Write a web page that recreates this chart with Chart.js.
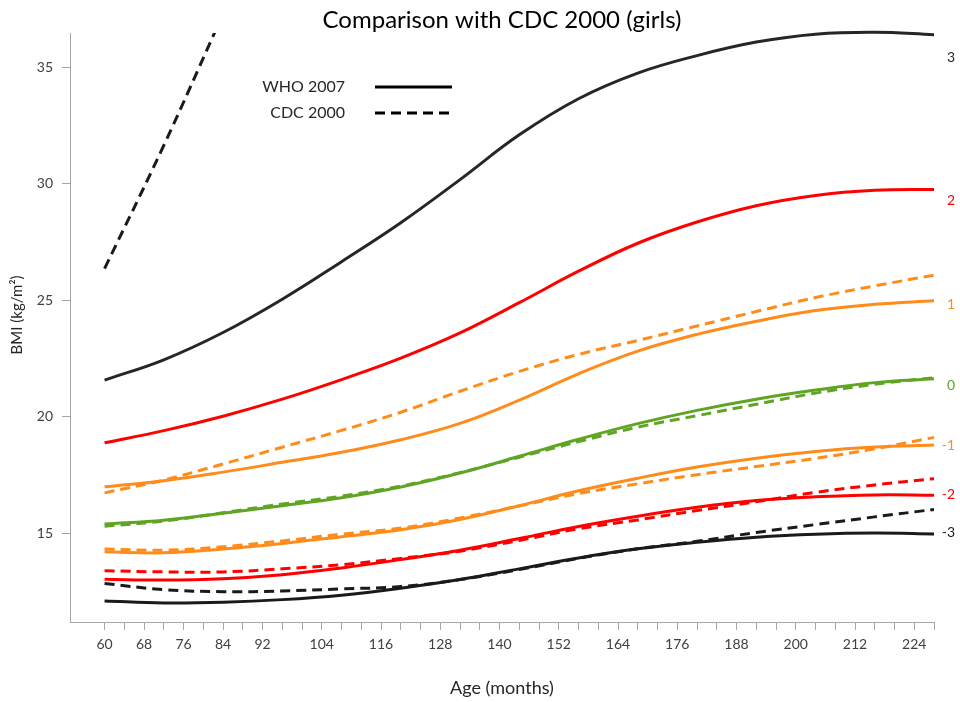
<!DOCTYPE html>
<html>
<head>
<meta charset="utf-8">
<script src="https://cdn.jsdelivr.net/npm/chart.js@4.4.1/dist/chart.umd.min.js"></script>
<style>
  html, body { margin: 0; padding: 0; background: #fff; }
</style>
</head>
<body>
<canvas id="bmi" width="960" height="702"></canvas>
<script>
// ages (months) at which the curves were read
const ages = [60, 72, 84, 96, 108, 120, 132, 144, 156, 168, 180, 192, 204, 216, 228];

// WHO 2007 z-score curves (BMI kg/m2)
const whoP3 = [21.58, 22.45, 23.62, 25.05, 26.66, 28.33, 30.18, 32.1, 33.65, 34.75, 35.5, 36.08, 36.42, 36.5, 36.4];
const whoP2 = [18.89, 19.41, 20.03, 20.76, 21.6, 22.52, 23.6, 24.9, 26.25, 27.45, 28.36, 29.06, 29.5, 29.72, 29.76];
const whoP1 = [17.0, 17.26, 17.63, 18.05, 18.48, 19.02, 19.72, 20.72, 21.85, 22.82, 23.54, 24.1, 24.56, 24.83, 24.98];
const who0  = [15.4, 15.57, 15.87, 16.19, 16.53, 16.99, 17.59, 18.31, 19.04, 19.71, 20.28, 20.76, 21.15, 21.47, 21.64];
const whoM1 = [14.21, 14.17, 14.33, 14.57, 14.86, 15.16, 15.6, 16.19, 16.83, 17.37, 17.85, 18.23, 18.52, 18.71, 18.79];
const whoM2 = [13.03, 13.0, 13.06, 13.23, 13.52, 13.88, 14.28, 14.78, 15.3, 15.74, 16.12, 16.41, 16.57, 16.65, 16.64];
const whoM3 = [12.1, 12.02, 12.05, 12.16, 12.35, 12.65, 13.02, 13.48, 13.95, 14.34, 14.62, 14.84, 14.97, 15.02, 14.98];

// CDC 2000 z-score curves
const cdcP3 = [26.36, 31.65, 37.3, 43.0, null, null, null, null, null, null, null, null, null, null, null];
const cdcP1 = [16.74, 17.29, 17.98, 18.7, 19.42, 20.2, 21.1, 21.95, 22.68, 23.28, 23.9, 24.52, 25.12, 25.62, 26.08];
const cdc0  = [15.31, 15.53, 15.89, 16.26, 16.6, 17.03, 17.61, 18.27, 18.94, 19.56, 20.05, 20.54, 21.02, 21.4, 21.68];
const cdcM1 = [14.33, 14.28, 14.43, 14.68, 14.97, 15.23, 15.66, 16.18, 16.71, 17.13, 17.52, 17.87, 18.22, 18.63, 19.12];
const cdcM2 = [13.4, 13.35, 13.35, 13.48, 13.66, 13.93, 14.24, 14.7, 15.2, 15.58, 15.98, 16.36, 16.76, 17.08, 17.35];
const cdcM3 = [12.85, 12.59, 12.5, 12.53, 12.62, 12.72, 13.02, 13.45, 13.93, 14.34, 14.66, 15.04, 15.38, 15.71, 16.03];

// axis ticks
const xLabelTicks = [60, 68, 76, 84, 92, 104, 116, 128, 140, 152, 164, 176, 188, 200, 212, 224];
const yTicks = [15, 20, 25, 30, 35];
const zLabels = ['3', '2', '1', '0', '-1', '-2', '-3'];

const BLACK = '#1a1a1a', RED = '#ff0000', ORANGE = '#ff8c1a', GREEN = '#5fa523';
const FONT = 'Lato, "Open Sans", sans-serif';

const xMinor = [];
for (let a = 60; a <= 228; a += 4) xMinor.push(a);

const pts = vals => ages.map((a, i) => ({ x: a, y: vals[i] }));

const line = (vals, color, dashed, extra) => Object.assign({
    data: pts(vals),
    borderColor: color,
    borderWidth: 3,
    borderDash: dashed ? [10, 6] : [],
    pointRadius: 0,
    tension: 0.4,
    fill: false
}, extra || {});

// the right hand z labels, hung off the end of each WHO curve
const zAnchors = [whoP3, whoP2, whoP1, who0, whoM1, whoM2, whoM3];
const zColors = ['#262626', RED, ORANGE, GREEN, ORANGE, RED, BLACK];
const zNudge = [23, 11, 4, 7, 0, -1, -1];

const decorate = {
    id: 'decorate',
    afterDraw(chart) {
        const { ctx, chartArea: ca, scales } = chart;
        ctx.save();
        ctx.textBaseline = 'middle';

        // title
        ctx.fillStyle = '#000';
        ctx.font = '24px ' + FONT;
        ctx.textAlign = 'center';
        ctx.fillText('Comparison with CDC 2000 (girls)', (ca.left + ca.right) / 2, 20);

        // axis titles
        ctx.fillStyle = '#262626';
        ctx.font = '18px ' + FONT;
        ctx.fillText('Age (months)', (ca.left + ca.right) / 2, 688);
        ctx.save();
        ctx.translate(17, 315);
        ctx.rotate(-Math.PI / 2);
        ctx.font = '15px ' + FONT;
        ctx.fillText('BMI (kg/m²)', 0, 0);
        ctx.restore();

        // legend
        ctx.font = '16px ' + FONT;
        ctx.textAlign = 'right';
        ctx.fillText('WHO 2007', 345, 87);
        ctx.fillText('CDC 2000', 345, 113);
        ctx.strokeStyle = '#000';
        ctx.lineWidth = 3;
        ctx.beginPath();
        ctx.moveTo(375, 87); ctx.lineTo(452, 87);
        ctx.stroke();
        ctx.setLineDash([10, 6]);
        ctx.beginPath();
        ctx.moveTo(375, 113); ctx.lineTo(452, 113);
        ctx.stroke();
        ctx.setLineDash([]);

        // z labels
        ctx.font = '14px ' + FONT;
        ctx.textAlign = 'right';
        const xEnd = scales.x.getPixelForValue(ages[ages.length - 1]);
        zLabels.forEach((t, i) => {
            const s = zAnchors[i];
            const y = scales.y.getPixelForValue(s[s.length - 1]) + zNudge[i];
            ctx.fillStyle = zColors[i];
            ctx.fillText(t, xEnd + 21, y);
        });
        ctx.restore();
    }
};

new Chart(document.getElementById('bmi'), {
    type: 'line',
    data: {
        datasets: [
            line(cdcP3, BLACK, true),
            line(cdcP1, ORANGE, true),
            line(cdc0, GREEN, true),
            line(cdcM1, ORANGE, true),
            line(cdcM2, RED, true),
            line(cdcM3, BLACK, true),
            line(whoP3, '#262626', false, { clip: 4 }),
            line(whoP2, RED, false),
            line(whoP1, ORANGE, false),
            line(who0, GREEN, false),
            line(whoM1, ORANGE, false),
            line(whoM2, RED, false),
            line(whoM3, BLACK, false)
        ]
    },
    options: {
        responsive: false,
        animation: false,
        layout: { padding: { top: 33, right: 26, left: 0, bottom: 0 } },
        plugins: { legend: { display: false }, title: { display: false }, tooltip: { enabled: false } },
        scales: {
            x: {
                type: 'linear',
                min: 53,
                max: 228,
                afterFit: s => { s.height = 80; },
                afterBuildTicks: s => { s.ticks = xMinor.map(v => ({ value: v })); },
                border: { color: '#a6a6a6', width: 1 },
                grid: { drawOnChartArea: false, drawTicks: true, tickLength: 8, color: '#a6a6a6' },
                ticks: {
                    autoSkip: false,
                    maxRotation: 0,
                    padding: 6,
                    color: '#404040',
                    font: { family: FONT, size: 14 },
                    callback: v => xLabelTicks.includes(v) ? String(v) : ''
                }
            },
            y: {
                min: 11.2,
                max: 36.47,
                afterFit: s => { s.width = 70; },
                afterBuildTicks: s => { s.ticks = yTicks.map(v => ({ value: v })); },
                border: { color: '#a6a6a6', width: 1 },
                grid: { drawOnChartArea: false, drawTicks: true, tickLength: 8, color: '#a6a6a6' },
                ticks: {
                    padding: 9,
                    color: '#404040',
                    font: { family: FONT, size: 14 },
                    callback: v => String(v)
                }
            }
        }
    },
    plugins: [decorate]
});
</script>
</body>
</html>
